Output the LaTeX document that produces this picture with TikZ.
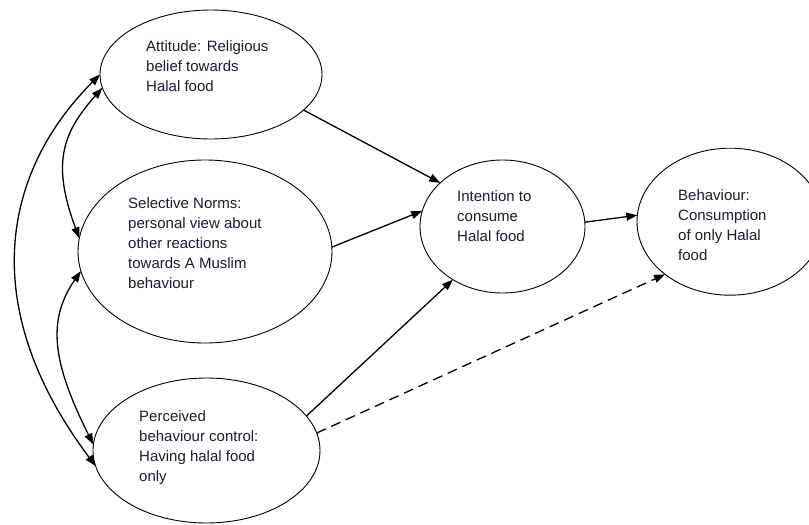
\documentclass[tikz,border=0pt]{standalone}
\usepackage{fontspec}
\setmainfont{Liberation Sans}
\usetikzlibrary{shapes.geometric,arrows.meta}
\definecolor{txt}{RGB}{28,28,44}
\tikzset{
  oval/.style={ellipse, draw=black, line width=0.9pt, inner sep=0pt, outer sep=0pt},
  lbl/.style={anchor=north west, inner sep=0pt, align=left, text=txt,
              font=\fontsize{15}{20}\selectfont},
  conn/.style={line width=1.3pt, -{Triangle[length=11pt,width=8pt]}},
  dconn/.style={conn, dash pattern=on 10pt off 6pt},
  biconn/.style={line width=1.3pt, {Triangle[length=11pt,width=8pt]}-{Triangle[length=11pt,width=8pt]}}
}
\begin{document}
\begin{tikzpicture}[x=1pt,y=-1pt]
\useasboundingbox (0,0) rectangle (809,525);
\clip (0,0) rectangle (809,525);
% ellipses
\node[oval, minimum width=222pt, minimum height=129pt] (A) at (211,74.5) {};
\node[oval, minimum width=254pt, minimum height=183pt] (S) at (205,251.5) {};
\node[oval, minimum width=227pt, minimum height=145pt] (P) at (206.5,450.5) {};
\node[oval, minimum width=165pt, minimum height=133pt] (I) at (502.5,226.5) {};
\node[oval, minimum width=186pt, minimum height=147pt] (B) at (730,221.7) {};
% texts
\node[lbl] (tA) at (146,40.5) {Attitude: Religious\\belief towards\\Halal food};
\node[lbl] (tS) at (128,197) {Selective Norms:\\personal view about\\other reactions\\towards A Muslim\\behaviour};
\node[lbl] (tP) at (139,410.5) {Perceived\\behaviour control:\\Having halal food\\only};
\node[lbl] (tI) at (457,190) {Intention to\\consume\\Halal food};
\node[lbl] (tB) at (678,189) {Behaviour:\\Consumption\\of only Halal\\food};
% straight arrows
\draw[conn] (A.-21) -- (I.145.6);
\draw[conn] (S.2.4) -- (I.169.4);
\draw[conn] (P.19.8) -- (I.227);
\draw[conn] (I.3.3) -- (B.176.4);
\draw[dconn] (P.9.9) -- (B.219.2);
% curved double arrows
\draw[biconn] (A.180) .. controls +(-97,97) and +(-120,-160) .. (P.188.9);
\draw[biconn] (A.187.3) .. controls +(-40,45) and +(-28,-75) .. (S.174.4);
\draw[biconn] (S.189.7) .. controls +(-35,50) and +(-40,-80) .. (P.177.2);
\end{tikzpicture}
\end{document}
